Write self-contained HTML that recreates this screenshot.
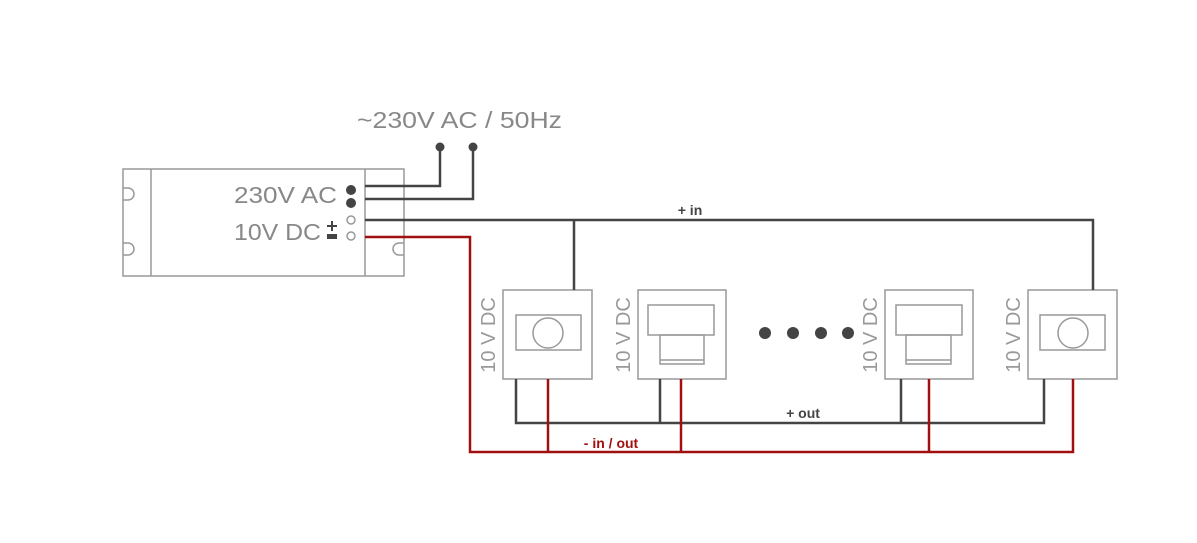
<!DOCTYPE html>
<html><head><style>html,body{margin:0;padding:0;background:#fff}svg{display:block}</style></head><body>
<svg width="1197" height="543" viewBox="0 0 1197 543" xmlns="http://www.w3.org/2000/svg" font-family="Liberation Sans, sans-serif">
<rect width="1197" height="543" fill="#fff"/>
<g fill="none" stroke="#999" stroke-width="1.5">
<rect x="123" y="169" width="281" height="107"/>
<line x1="151" y1="169" x2="151" y2="276"/>
<line x1="365" y1="169" x2="365" y2="276"/>
<path d="M123 188 h5 a6 6 0 0 1 0 12 h-5"/>
<path d="M123 243 h5 a6 6 0 0 1 0 12 h-5"/>
<path d="M404 243 h-5 a6 6 0 0 0 0 12 h5"/>
<rect x="503" y="290" width="89" height="89"/>
<rect x="516" y="315" width="65" height="35"/>
<circle cx="548" cy="333" r="15"/>
<rect x="638" y="290" width="88" height="89"/>
<rect x="648" y="305" width="66" height="30"/>
<rect x="660" y="335" width="44" height="29"/><line x1="660" y1="360" x2="704" y2="360"/>
<rect x="885" y="290" width="88" height="89"/>
<rect x="896" y="305" width="66" height="30"/>
<rect x="906" y="335" width="45" height="29"/><line x1="906" y1="360" x2="951" y2="360"/>
<rect x="1028" y="290" width="89" height="89"/>
<rect x="1040" y="315" width="65" height="35"/>
<circle cx="1073" cy="333" r="15"/>
<circle cx="351" cy="220" r="4"/><circle cx="351" cy="236" r="4"/>
</g>
<g fill="#444"><circle cx="351" cy="190" r="5"/><circle cx="351" cy="203" r="5"/>
<circle cx="440" cy="147" r="4.5"/><circle cx="473" cy="147" r="4.5"/>
<circle cx="765" cy="333" r="6"/><circle cx="793" cy="333" r="6"/><circle cx="821" cy="333" r="6"/><circle cx="848" cy="333" r="6"/>
<rect x="327" y="225" width="10" height="2"/><rect x="331" y="221" width="2" height="10"/><rect x="327" y="234" width="10" height="5"/>
</g>
<g fill="none" stroke="#444" stroke-width="2.5">
<path d="M365 186 H440 V148"/>
<path d="M365 199 H473 V148"/>
<path d="M365 220 H1093 V290"/>
<path d="M574 220 V290"/>
<path d="M516 379 V423 H1044 V379"/>
<path d="M660 379 V423"/><path d="M901 379 V423"/>
</g>
<g fill="none" stroke="#a01010" stroke-width="2.5">
<path d="M365 237 H470 V452 H1073 V379"/>
<path d="M548 379 V452"/><path d="M681 379 V452"/><path d="M929 379 V452"/>
</g>
<g fill="#888" font-size="23">
<text x="357" y="128" textLength="205" lengthAdjust="spacingAndGlyphs">~230V AC / 50Hz</text>
<text x="234" y="203" textLength="103" lengthAdjust="spacingAndGlyphs">230V AC</text>
<text x="234" y="240" textLength="87" lengthAdjust="spacingAndGlyphs">10V DC</text>
</g>
<g fill="#999" font-size="20">
<text transform="translate(495,335) rotate(-90)" text-anchor="middle">10 V DC</text>
<text transform="translate(630,335) rotate(-90)" text-anchor="middle">10 V DC</text>
<text transform="translate(877,335) rotate(-90)" text-anchor="middle">10 V DC</text>
<text transform="translate(1020,335) rotate(-90)" text-anchor="middle">10 V DC</text>
</g>
<g font-size="14" font-weight="bold">
<text x="690" y="215" fill="#444" text-anchor="middle">+ in</text>
<text x="803" y="418" fill="#444" text-anchor="middle">+ out</text>
<text x="611" y="448" fill="#a01010" text-anchor="middle">- in / out</text>
</g>
</svg>
</body></html>
